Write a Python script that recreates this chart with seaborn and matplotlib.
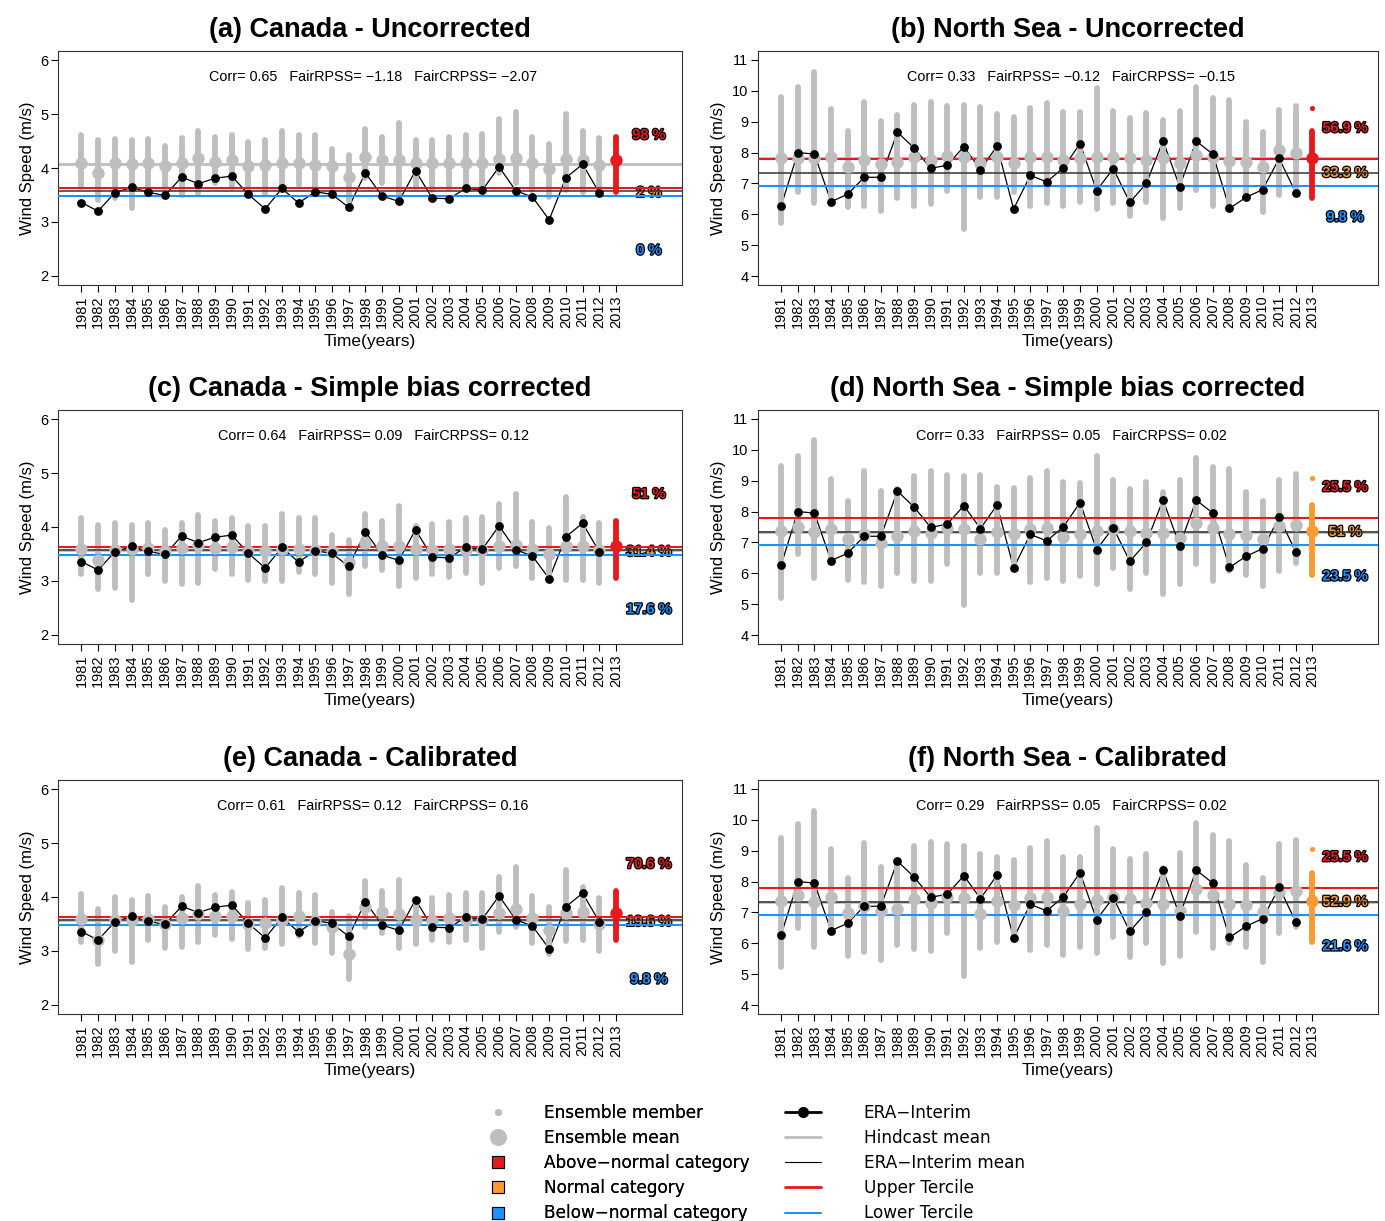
import numpy as np
import pandas as pd
import matplotlib
matplotlib.use("Agg")
import matplotlib.pyplot as plt
import matplotlib.patheffects as pe
from matplotlib.lines import Line2D
import seaborn as sns

sns.set_style("ticks")
plt.rcParams["font.family"] = ["Liberation Sans", "DejaVu Sans"]
plt.rcParams["text.color"] = "black"
plt.rcParams["axes.labelcolor"] = "black"
plt.rcParams["xtick.color"] = "black"
plt.rcParams["ytick.color"] = "black"

years = list(range(1981, 2014))

# observed (ERA-Interim), 1981-2012
canada_era = [3.36, 3.20, 3.54, 3.64, 3.55, 3.49, 3.83, 3.71, 3.81, 3.85, 3.51, 3.24, 3.62, 3.35, 3.56, 3.51,
              3.27, 3.91, 3.48, 3.38, 3.95, 3.44, 3.43, 3.62, 3.59, 4.02, 3.58, 3.46, 3.04, 3.82, 4.07, 3.54]
northsea_era = [6.28, 8.00, 7.95, 6.41, 6.65, 7.20, 7.20, 8.66, 8.15, 7.49, 7.59, 8.19, 7.45, 8.21, 6.17, 7.26,
                7.05, 7.51, 8.29, 6.77, 7.48, 6.39, 7.00, 8.38, 6.90, 8.37, 7.95, 6.19, 6.55, 6.80, 7.81, 6.69]

# ensemble mean / min / max per year, 1981-2013 (last = forecast)
a_mean = [4.10, 3.91, 4.09, 4.07, 4.10, 4.04, 4.10, 4.18, 4.12, 4.14, 4.04, 4.05, 4.09, 4.09, 4.06, 4.04, 3.84,
          4.21, 4.15, 4.14, 4.10, 4.09, 4.10, 4.09, 4.09, 4.16, 4.18, 4.10, 3.99, 4.16, 4.15, 4.06, 4.15]
a_hi = [4.61, 4.52, 4.53, 4.52, 4.54, 4.41, 4.56, 4.69, 4.58, 4.61, 4.49, 4.52, 4.69, 4.61, 4.61, 4.35, 4.24,
        4.72, 4.58, 4.83, 4.52, 4.52, 4.57, 4.61, 4.63, 4.91, 5.04, 4.57, 4.44, 5.00, 4.69, 4.55, 4.57]
a_lo = [3.65, 3.41, 3.44, 3.25, 3.56, 3.65, 3.50, 3.53, 3.72, 3.65, 3.59, 3.52, 3.65, 3.69, 3.65, 3.65, 3.38,
        3.81, 3.72, 3.47, 3.65, 3.59, 3.62, 3.62, 3.59, 3.90, 3.72, 3.59, 3.47, 3.59, 3.56, 3.65, 3.56]

b_mean = [7.81, 7.81, 7.81, 7.85, 7.54, 7.76, 7.63, 7.71, 7.85, 7.76, 7.89, 7.87, 7.65, 7.87, 7.67, 7.87, 7.87,
          7.76, 7.81, 7.85, 7.87, 7.81, 7.76, 7.81, 7.65, 7.92, 7.87, 7.74, 7.71, 7.54, 8.08, 7.98, 7.81]
b_hi = [9.81, 10.14, 10.62, 9.41, 8.71, 9.65, 9.02, 9.22, 9.54, 9.65, 9.52, 9.54, 9.49, 9.25, 9.14, 9.43, 9.60,
        9.30, 9.33, 10.08, 9.35, 9.11, 9.29, 9.06, 9.36, 10.11, 9.76, 9.70, 9.00, 8.68, 9.38, 9.52, 8.70]
b_lo = [5.71, 6.73, 6.38, 6.57, 6.25, 6.27, 6.11, 6.52, 6.28, 6.33, 6.77, 5.52, 6.57, 6.57, 6.73, 6.28, 6.36,
        6.28, 6.41, 6.16, 6.36, 5.96, 6.39, 5.87, 6.19, 6.79, 6.28, 6.19, 6.57, 6.09, 6.63, 6.73, 6.52]

c_mean = [3.59, 3.39, 3.58, 3.59, 3.61, 3.55, 3.61, 3.67, 3.61, 3.63, 3.55, 3.55, 3.59, 3.59, 3.57, 3.55, 3.36,
          3.70, 3.64, 3.64, 3.59, 3.58, 3.59, 3.58, 3.58, 3.65, 3.67, 3.59, 3.50, 3.65, 3.65, 3.57, 3.64]
c_hi = [4.16, 4.04, 4.07, 4.04, 4.08, 3.94, 4.07, 4.22, 4.12, 4.16, 4.01, 4.02, 4.24, 4.16, 4.16, 3.86, 3.76,
        4.24, 4.12, 4.39, 4.01, 4.06, 4.10, 4.16, 4.18, 4.43, 4.61, 4.10, 3.98, 4.56, 4.18, 4.07, 4.12]
c_lo = [3.12, 2.85, 2.87, 2.65, 3.12, 2.99, 2.95, 2.97, 3.22, 3.12, 3.02, 2.99, 3.00, 3.16, 3.12, 2.96, 2.75,
        3.27, 3.20, 2.90, 3.05, 3.12, 3.08, 3.15, 2.96, 3.24, 3.27, 3.05, 3.02, 3.01, 3.02, 2.96, 3.05]

d_mean = [7.36, 7.49, 7.34, 7.45, 7.12, 7.28, 6.98, 7.20, 7.38, 7.31, 7.47, 7.42, 7.12, 7.34, 7.28, 7.42, 7.47,
          7.17, 7.28, 7.36, 7.45, 7.38, 7.31, 7.31, 7.15, 7.63, 7.47, 7.28, 7.25, 7.12, 7.52, 7.56, 7.36]
d_hi = [9.48, 9.81, 10.32, 9.06, 8.33, 9.32, 8.67, 8.74, 9.14, 9.33, 9.19, 9.14, 9.17, 8.81, 8.76, 9.08, 9.30,
        8.95, 8.92, 9.81, 9.01, 8.74, 8.95, 8.63, 9.01, 9.73, 9.43, 9.39, 8.63, 8.33, 9.03, 9.21, 8.22]
d_lo = [5.21, 6.61, 5.85, 6.41, 5.77, 5.71, 5.59, 6.02, 5.75, 5.75, 6.29, 4.97, 6.02, 6.02, 6.18, 5.71, 5.85,
        5.75, 5.91, 5.64, 6.18, 5.48, 6.02, 5.34, 5.66, 6.29, 5.75, 6.07, 5.96, 5.59, 6.07, 6.34, 5.96]

e_mean = [3.59, 3.20, 3.57, 3.57, 3.59, 3.50, 3.61, 3.69, 3.64, 3.65, 3.50, 3.52, 3.58, 3.64, 3.55, 3.44, 2.95,
          3.82, 3.73, 3.69, 3.57, 3.55, 3.61, 3.58, 3.58, 3.70, 3.78, 3.61, 3.38, 3.71, 3.73, 3.50, 3.70]
e_hi = [4.06, 3.78, 4.00, 3.95, 4.02, 3.82, 4.00, 4.21, 4.04, 4.10, 3.89, 3.94, 4.16, 4.07, 4.04, 3.73, 3.64,
        4.29, 4.12, 4.32, 3.95, 3.98, 4.04, 4.07, 4.07, 4.38, 4.56, 4.02, 3.81, 4.51, 4.19, 3.98, 4.12]
e_lo = [3.16, 2.75, 2.99, 2.79, 3.20, 3.05, 3.07, 3.16, 3.30, 3.22, 3.04, 3.05, 3.12, 3.27, 3.15, 2.97, 2.47,
        3.45, 3.33, 3.05, 3.13, 3.20, 3.16, 3.21, 3.05, 3.36, 3.45, 3.15, 2.95, 3.18, 3.20, 2.99, 3.20]

f_mean = [7.38, 7.57, 7.35, 7.51, 6.97, 7.22, 7.05, 7.11, 7.44, 7.30, 7.51, 7.46, 6.94, 7.37, 7.24, 7.48, 7.51,
          7.05, 7.26, 7.40, 7.51, 7.44, 7.30, 7.26, 7.05, 7.76, 7.57, 7.26, 7.24, 7.00, 7.65, 7.70, 7.37]
f_hi = [9.42, 9.86, 10.27, 9.06, 8.13, 9.24, 8.48, 8.62, 9.16, 9.29, 9.21, 9.16, 8.88, 8.81, 8.70, 9.08, 9.32,
        8.78, 8.81, 9.75, 9.06, 8.73, 8.88, 8.43, 8.92, 9.89, 9.51, 9.32, 8.54, 8.11, 9.22, 9.35, 8.27]
f_lo = [5.24, 6.49, 5.89, 6.38, 5.60, 5.73, 5.46, 5.95, 5.82, 5.75, 6.32, 4.94, 5.84, 6.05, 6.11, 5.78, 5.95,
        5.62, 5.89, 5.68, 6.22, 5.55, 6.00, 5.35, 5.60, 6.38, 5.84, 6.00, 5.89, 5.41, 6.32, 6.54, 6.03]

# single forecast members sitting apart from the 2013 cloud
fc_outlier = {"b": 9.43, "d": 9.08, "f": 9.06}

# horizontal reference lines: hindcast mean, ERA mean, upper / lower tercile
hind_mean = {"a": 4.08, "b": 7.81, "c": 3.58, "d": 7.35, "e": 3.58, "f": 7.35}
era_mean = {"canada": 3.57, "ns": 7.35}
upper_t = {"canada": 3.62, "ns": 7.80}
lower_t = {"canada": 3.48, "ns": 6.91}

titles = {"a": "(a) Canada - Uncorrected", "b": "(b) North Sea - Uncorrected",
          "c": "(c) Canada - Simple bias corrected", "d": "(d) North Sea - Simple bias corrected",
          "e": "(e) Canada - Calibrated", "f": "(f) North Sea - Calibrated"}
scores = {"a": ("0.65", "\u22121.18", "\u22122.07"), "b": ("0.33", "\u22120.12", "\u22120.15"),
          "c": ("0.64", "0.09", "0.12"), "d": ("0.33", "0.05", "0.02"),
          "e": ("0.61", "0.12", "0.16"), "f": ("0.29", "0.05", "0.02")}
probs = {"a": ("98 %", "2 %", "0 %"), "b": ("56.9 %", "33.3 %", "9.8 %"),
         "c": ("51 %", "31.4 %", "17.6 %"), "d": ("25.5 %", "51 %", "23.5 %"),
         "e": ("70.6 %", "19.6 %", "9.8 %"), "f": ("25.5 %", "52.9 %", "21.6 %")}
fc_cat = {"a": "above", "b": "above", "c": "above", "d": "normal", "e": "above", "f": "normal"}

ens = {"a": (a_mean, a_lo, a_hi), "b": (b_mean, b_lo, b_hi), "c": (c_mean, c_lo, c_hi),
       "d": (d_mean, d_lo, d_hi), "e": (e_mean, e_lo, e_hi), "f": (f_mean, f_lo, f_hi)}

RED = "#e41a1c"
ORANGE = "#ff9933"
BLUE = "#1e90ff"
GREY = "#bebebe"
cat_col = {"above": RED, "normal": ORANGE, "below": BLUE}

W, H = 1385, 1221
fig = plt.figure(figsize=(W / 100, H / 100), dpi=100)

lefts = {"canada": (58, 624), "ns": (758, 620)}
row_tops = [51, 410, 780]
ax_h = 234
layout = [("a", "canada", 0), ("b", "ns", 0), ("c", "canada", 1), ("d", "ns", 1), ("e", "canada", 2), ("f", "ns", 2)]

for key, region, row in layout:
    x0, w = lefts[region]
    top = row_tops[row]
    ax = fig.add_axes([x0 / W, 1 - (top + ax_h) / H, w / W, ax_h / H])
    mean, lo, hi = ens[key]
    era = canada_era if region == "canada" else northsea_era
    fcc = cat_col[fc_cat[key]]

    # reference lines
    ax.axhline(hind_mean[key], color=GREY, lw=2, zorder=1)
    ax.axhline(era_mean[region], color="#333333", lw=1.1, zorder=3.6)
    ax.axhline(upper_t[region], color=RED, lw=1.5, zorder=3.5)
    ax.axhline(lower_t[region], color=BLUE, lw=1.5, zorder=3.5)

    # observed line beneath the clouds
    sns.lineplot(x=years[:-1], y=era, ax=ax, color="black", lw=0.9, zorder=2)

    # ensemble clouds
    ax.vlines(years[:-1], lo[:-1], hi[:-1], color=GREY, lw=4.2, zorder=3, capstyle="round")
    sns.scatterplot(x=years[:-1], y=mean[:-1], ax=ax, s=80, color=GREY, linewidth=0, zorder=4)

    # forecast year
    ax.vlines(years[-1], lo[-1], hi[-1], color=fcc, lw=4.2, zorder=4, capstyle="round")
    if key in fc_outlier:
        ax.scatter([years[-1]], [fc_outlier[key]], s=14, color=fcc, zorder=4, linewidths=0)
    ax.scatter([years[-1]], [mean[-1]], s=80, color=fcc, zorder=4.5, linewidths=0)

    sns.scatterplot(x=years[:-1], y=era, ax=ax, s=40, color="black", linewidth=0, zorder=5)

    if region == "canada":
        ax.set_ylim(1.83, 6.17)
        ax.set_yticks([2, 3, 4, 5, 6])
        py = (4.61, 3.54, 2.47)
    else:
        ax.set_ylim(3.71, 11.29)
        ax.set_yticks(range(4, 12))
        py = (8.79, 7.34, 5.90)
    ax.set_xlim(1979.6, 2016.95)
    ax.set_xticks(years)
    ax.set_xticklabels([str(y) for y in years], rotation=90, fontsize=10.5)
    ax.tick_params(axis="y", labelsize=10.5, length=5, width=0.8, pad=2)
    ax.tick_params(axis="x", length=5, width=0.8, pad=2.5)
    for s in ax.spines.values():
        s.set_visible(True)
        s.set_linewidth(0.8)
        s.set_color("#333333")

    ax.set_xlabel("Time(years)", fontsize=12.5, labelpad=4)
    ax.set_ylabel("Wind Speed (m/s)", fontsize=12, labelpad=4)
    ax.set_title(titles[key], fontsize=19.5, fontweight="bold", pad=10)

    c, r1, r2 = scores[key]
    ax.text(0.505, 0.89, f"Corr= {c}   FairRPSS= {r1}   FairCRPSS= {r2}", transform=ax.transAxes,
            ha="center", va="center", fontsize=10.4)

    for txt, yv, col in zip(probs[key], py, (RED, ORANGE, BLUE)):
        ax.text(0.947, yv, txt, transform=ax.get_yaxis_transform(), ha="center", va="center",
                fontsize=10.5, fontweight="bold", color=col,
                path_effects=[pe.withStroke(linewidth=1.8, foreground="black")])

leg_font = {"family": "DejaVu Sans", "size": 12.2}
left_handles = [
    Line2D([], [], ls="", marker="o", ms=4, color=GREY),
    Line2D([], [], ls="", marker="o", ms=11, color=GREY),
    Line2D([], [], ls="", marker="s", ms=9, mfc=RED, mec="black", mew=0.8),
    Line2D([], [], ls="", marker="s", ms=9, mfc=ORANGE, mec="black", mew=0.8),
    Line2D([], [], ls="", marker="s", ms=9, mfc=BLUE, mec="black", mew=0.8),
]
left_labels = ["Ensemble member", "Ensemble mean", "Above\u2212normal category", "Normal category",
               "Below\u2212normal category"]
right_handles = [
    Line2D([], [], color="black", lw=2, marker="o", ms=7),
    Line2D([], [], color=GREY, lw=2),
    Line2D([], [], color="black", lw=0.8),
    Line2D([], [], color=RED, lw=2),
    Line2D([], [], color=BLUE, lw=1.5),
]
right_labels = ["ERA\u2212Interim", "Hindcast mean", "ERA\u2212Interim mean", "Upper Tercile", "Lower Tercile"]

leg1 = fig.legend(left_handles, left_labels, loc="upper left", bbox_to_anchor=(480 / W, 1 - 1104 / H),
                  frameon=False, borderpad=0, borderaxespad=0, handlelength=2.1, handletextpad=1.7,
                  labelspacing=0.42, prop=leg_font)
fig.add_artist(leg1)
fig.legend(right_handles, right_labels, loc="upper left", bbox_to_anchor=(785 / W, 1 - 1104 / H),
           frameon=False, borderpad=0, borderaxespad=0, handlelength=2.1, handletextpad=2.55,
           labelspacing=0.42, prop=leg_font)

fig.savefig("out.png", dpi=100)
